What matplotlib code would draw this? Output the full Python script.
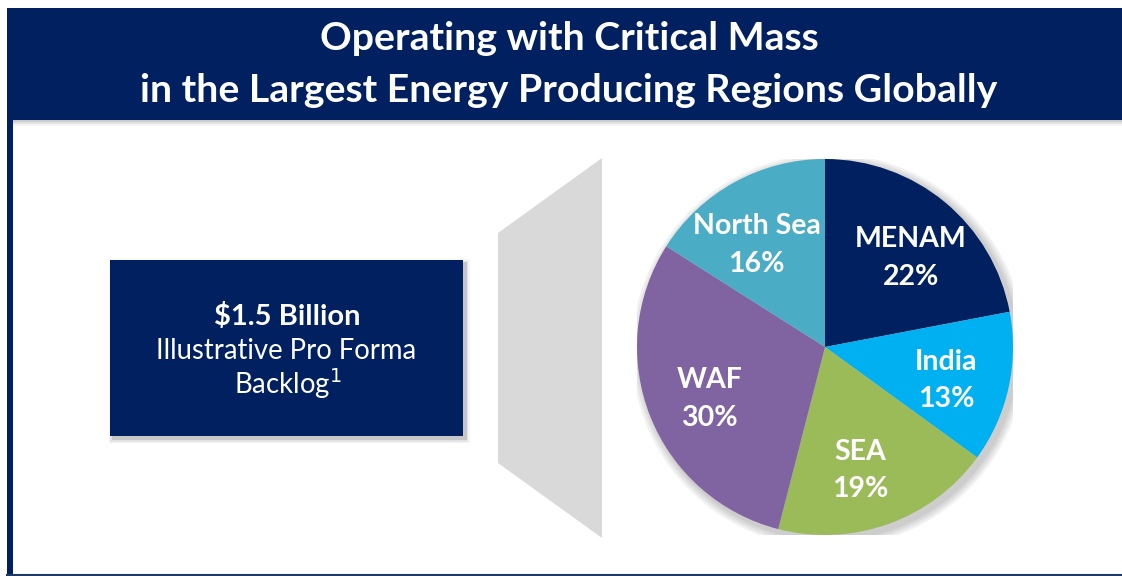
import matplotlib
matplotlib.use("Agg")
import matplotlib.pyplot as plt
from matplotlib.patches import Rectangle, Polygon, Circle
import numpy as np

# data
regions = ["MENAM", "India", "SEA", "WAF", "North Sea"]
shares = [22, 13, 19, 30, 16]
colors = ["#002060", "#00B0F0", "#9BBB59", "#8064A2", "#4BACC6"]
title_lines = ["Operating with Critical Mass", "in the Largest Energy Producing Regions Globally"]
box_lines = ["$1.5 Billion", "Illustrative Pro Forma", "Backlog$^{1}$"]

# small horizontal nudges for the pie labels (axes units)
nudge = {"MENAM": 0.035, "SEA": -0.035, "North Sea": -0.045}

navy = "#002060"
W, H = 1122, 576
plt.rcParams['font.family'] = ['Lato', 'DejaVu Sans']

fig = plt.figure(figsize=(W / 100, H / 100), dpi=100)
bg = fig.add_axes([0, 0, 1, 1])
bg.set_xlim(0, W)
bg.set_ylim(H, 0)
bg.axis("off")

# header band with a soft shadow
for i, a in enumerate([0.10, 0.07, 0.04]):
    bg.add_patch(Rectangle((7, 120), W - 7, 2 + i * 2, color="black", alpha=a, lw=0))
bg.add_patch(Rectangle((7, 8), W - 7, 112, color=navy, lw=0))
bg.text(W / 2 + 8, 38, title_lines[0], color="white", fontsize=28.3, fontweight="bold",
        ha="center", va="center")
bg.text(W / 2 + 8, 90, title_lines[1], color="white", fontsize=28.3, fontweight="bold",
        ha="center", va="center")

# frame lines left and bottom
bg.add_patch(Rectangle((7, 115), 6, H - 115, color=navy, lw=0))
bg.plot([7, W], [574.5, 574.5], color="#1F3864", lw=1.5)

# backlog box
for i, a in enumerate([0.12, 0.07, 0.04]):
    d = 1 + i * 1.5
    bg.add_patch(Rectangle((110 - d + 3, 260 - d + 3), 353 + 2 * d, 176 + 2 * d,
                           color="black", alpha=a, lw=0))
bg.add_patch(Rectangle((110, 260), 353, 176, color=navy, lw=0))
bg.text(287, 317, box_lines[0], color="white", fontsize=21, fontweight="bold",
        ha="center", va="center")
bg.text(286, 351, box_lines[1], color="white", fontsize=19.8, ha="center", va="center")
bg.text(288, 384, box_lines[2], color="white", fontsize=19.8, ha="center", va="center")

# gray connector shape
bg.add_patch(Polygon([(498, 233), (602, 158), (602, 538), (498, 463)],
                     closed=True, color="#D9D9D9", lw=0, joinstyle="round"))

# pie
cx, cy, r = 825, 347, 188
pax = fig.add_axes([(cx - r) / W, (H - cy - r) / H, 2 * r / W, 2 * r / H])
for i in range(4):
    pax.add_patch(Circle((0.02, -0.02), 1.0 + 0.012 * (i + 1), color="black", alpha=0.05, lw=0))
wedges, _ = pax.pie(shares, colors=colors, startangle=90, counterclock=False,
                    radius=1, wedgeprops=dict(linewidth=0))
pax.set_xlim(-1, 1)
pax.set_ylim(-1, 1)
pax.set_aspect("equal")
pax.axis("off")

start = 90
for name, val in zip(regions, shares):
    mid = np.deg2rad(start - val * 3.6 / 2)
    start -= val * 3.6
    x, y = 0.66 * np.cos(mid), 0.66 * np.sin(mid) - 0.035
    pax.text(x + nudge.get(name, 0), y, f"{name}\n{val}%", color="white", fontsize=20.5,
             fontweight="bold", ha="center", va="center", linespacing=1.55)

fig.savefig("out.png", dpi=100)
